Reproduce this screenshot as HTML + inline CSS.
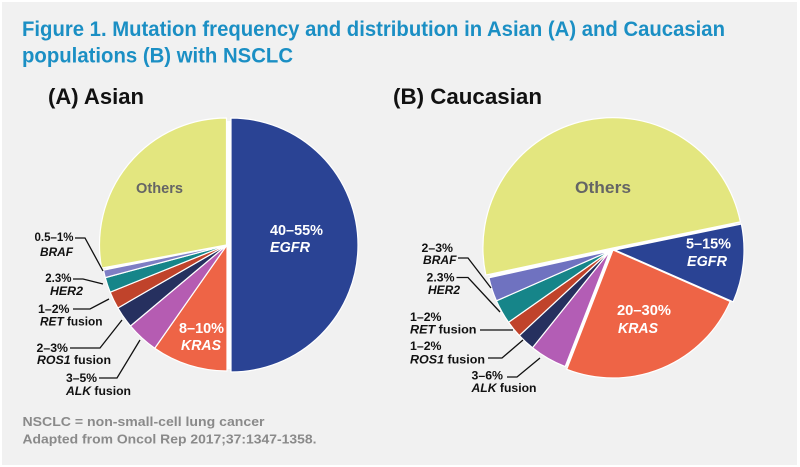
<!DOCTYPE html>
<html>
<head>
<meta charset="utf-8">
<style>
html,body{margin:0;padding:0;background:#ffffff;}
body{width:800px;height:467px;overflow:hidden;position:relative;}
#panel{position:absolute;left:2px;top:2px;width:795px;height:463px;background:#f1f1f1;}
svg{position:absolute;left:0;top:0;}
text{font-family:"Liberation Sans",Arial,sans-serif;font-weight:bold;}
</style>
</head>
<body>
<div id="panel"></div>
<svg width="800" height="467" viewBox="0 0 800 467" xmlns="http://www.w3.org/2000/svg">
  <!-- Title -->
  <text x="22" y="36" font-size="21" fill="#1b8fc4" textLength="703" lengthAdjust="spacingAndGlyphs">Figure 1. Mutation frequency and distribution in Asian (A) and Caucasian</text>
  <text x="22" y="62.5" font-size="21" fill="#1b8fc4" textLength="271" lengthAdjust="spacingAndGlyphs">populations (B) with NSCLC</text>

  <text x="48" y="104" font-size="22" fill="#111" textLength="96" lengthAdjust="spacingAndGlyphs">(A) Asian</text>
  <text x="393" y="104" font-size="22" fill="#111" textLength="149" lengthAdjust="spacingAndGlyphs">(B) Caucasian</text>

  <!-- Pie A -->
  <circle cx="228" cy="245" r="124" fill="#ffffff"/>
  <g stroke="#ffffff" stroke-width="1.2" stroke-linejoin="round">
    <path d="M231,245 L231,118 A127,127 0 0 1 231,372 Z" fill="#2a4394"/>
    <path d="M227,245 L227,371 A126,126 0 0 1 154.73,348.22 Z" fill="#ee6446"/>
    <path d="M227,245 L154.73,348.22 A126,126 0 0 1 130.48,325.99 Z" fill="#b55cb2"/>
    <path d="M227,245 L130.48,325.99 A126,126 0 0 1 117.88,308 Z" fill="#26305f"/>
    <path d="M227,245 L117.88,308 A126,126 0 0 1 110.17,292.2 Z" fill="#c0432b"/>
    <path d="M227,245 L110.17,292.2 A126,126 0 0 1 105.29,277.61 Z" fill="#168589"/>
    <path d="M227,245 L105.29,277.61 A126,126 0 0 1 103.53,270.12 Z" fill="#7e7ec4"/>
    <path d="M226.5,245 L101.62,268.14 A127,127 0 0 1 226.5,118 Z" fill="#e3e67f"/>
  </g>
  <text x="136" y="193" font-size="14.5" fill="#656565" textLength="47" lengthAdjust="spacingAndGlyphs">Others</text>
  <text x="270" y="235" font-size="14.5" fill="#ffffff" textLength="53" lengthAdjust="spacingAndGlyphs">40–55%</text>
  <text x="270" y="252" font-size="14.5" fill="#ffffff" font-style="italic" textLength="40" lengthAdjust="spacingAndGlyphs">EGFR</text>
  <text x="179" y="333" font-size="14.5" fill="#ffffff" textLength="45" lengthAdjust="spacingAndGlyphs">8–10%</text>
  <text x="181" y="350" font-size="14.5" fill="#ffffff" font-style="italic" textLength="40" lengthAdjust="spacingAndGlyphs">KRAS</text>

  <g font-size="11.5" fill="#111">
    <text x="73.5" y="241" text-anchor="end">0.5–1%</text>
    <text x="40" y="256" font-style="italic" textLength="33" lengthAdjust="spacingAndGlyphs">BRAF</text>
    <text x="71.5" y="282" text-anchor="end">2.3%</text>
    <text x="50" y="295" font-style="italic" textLength="33" lengthAdjust="spacingAndGlyphs">HER2</text>
    <text x="38" y="313" textLength="31.5" lengthAdjust="spacingAndGlyphs">1–2%</text>
    <text x="40" y="325.5" textLength="62.5" lengthAdjust="spacingAndGlyphs"><tspan font-style="italic">RET</tspan> fusion</text>
    <text x="36.5" y="352" textLength="31.5" lengthAdjust="spacingAndGlyphs">2–3%</text>
    <text x="37" y="364" textLength="74" lengthAdjust="spacingAndGlyphs"><tspan font-style="italic">ROS1</tspan> fusion</text>
    <text x="66" y="382" textLength="31" lengthAdjust="spacingAndGlyphs">3–5%</text>
    <text x="66" y="395" textLength="65" lengthAdjust="spacingAndGlyphs"><tspan font-style="italic">ALK</tspan> fusion</text>
  </g>
  <g fill="none" stroke="#111" stroke-width="1.3">
    <polyline points="75,238 85,238 103,271"/>
    <polyline points="73,279 83,279 103,284"/>
    <polyline points="73,309 90,309 109,299"/>
    <polyline points="70,348 100,348 122,320"/>
    <polyline points="99,378 117,378 140,340"/>
  </g>

  <!-- Pie B -->
  <circle cx="612" cy="249" r="125" fill="#ffffff"/>
  <g stroke="#ffffff" stroke-width="1.2" stroke-linejoin="round">
    <path d="M613,248 L485.85,275.03 A130,130 0 1 1 740.35,221.86 Z" fill="#e3e67f"/>
    <path d="M615,250 L741.37,224.06 A129,129 0 0 1 733.13,301.85 Z" fill="#2a4394"/>
    <path d="M613,250 L730.21,301.44 A128,128 0 0 1 566.72,369.33 Z" fill="#ee6446"/>
    <path d="M610,251 L565.16,366.61 A124,124 0 0 1 532.48,347.77 Z" fill="#b35db5"/>
    <path d="M610,251 L532.48,347.77 A124,124 0 0 1 519.31,335.57 Z" fill="#26305f"/>
    <path d="M610,251 L519.31,335.57 A124,124 0 0 1 508.56,322.3 Z" fill="#c0432b"/>
    <path d="M610,251 L508.56,322.3 A124,124 0 0 1 496.45,300.84 Z" fill="#168589"/>
    <path d="M610,251 L496.45,300.84 A124,124 0 0 1 488.94,277.83 Z" fill="#6f72c0"/>
  </g>
  <text x="575" y="193" font-size="16.5" fill="#656565" textLength="56" lengthAdjust="spacingAndGlyphs">Others</text>
  <text x="686" y="248.5" font-size="14.5" fill="#ffffff" textLength="45" lengthAdjust="spacingAndGlyphs">5–15%</text>
  <text x="687" y="266" font-size="14.5" fill="#ffffff" font-style="italic" textLength="40" lengthAdjust="spacingAndGlyphs">EGFR</text>
  <text x="617" y="315" font-size="14.5" fill="#ffffff" textLength="54" lengthAdjust="spacingAndGlyphs">20–30%</text>
  <text x="618" y="333" font-size="14.5" fill="#ffffff" font-style="italic" textLength="40" lengthAdjust="spacingAndGlyphs">KRAS</text>

  <g font-size="11.5" fill="#111">
    <text x="421.5" y="252" textLength="31.5" lengthAdjust="spacingAndGlyphs">2–3%</text>
    <text x="423" y="264" font-style="italic" textLength="33.5" lengthAdjust="spacingAndGlyphs">BRAF</text>
    <text x="426.5" y="281.5" textLength="28" lengthAdjust="spacingAndGlyphs">2.3%</text>
    <text x="428" y="294" font-style="italic" textLength="32" lengthAdjust="spacingAndGlyphs">HER2</text>
    <text x="410" y="321" textLength="31.5" lengthAdjust="spacingAndGlyphs">1–2%</text>
    <text x="410" y="333.5" textLength="66.5" lengthAdjust="spacingAndGlyphs"><tspan font-style="italic">RET</tspan> fusion</text>
    <text x="410" y="350" textLength="31.5" lengthAdjust="spacingAndGlyphs">1–2%</text>
    <text x="410" y="363.5" textLength="75" lengthAdjust="spacingAndGlyphs"><tspan font-style="italic">ROS1</tspan> fusion</text>
    <text x="471.5" y="379.5" textLength="31.5" lengthAdjust="spacingAndGlyphs">3–6%</text>
    <text x="471.5" y="392" textLength="65" lengthAdjust="spacingAndGlyphs"><tspan font-style="italic">ALK</tspan> fusion</text>
  </g>
  <g fill="none" stroke="#111" stroke-width="1.3">
    <polyline points="458,258 468,258 491,288"/>
    <polyline points="456.5,277.5 468,277.5 500,312"/>
    <polyline points="480,330 513,330"/>
    <polyline points="488,358 502,358 523,340"/>
    <polyline points="507,377 517,377 540,358"/>
  </g>

  <!-- Footer -->
  <text x="22.5" y="426" font-size="13" fill="#8a8a8a" textLength="242" lengthAdjust="spacingAndGlyphs">NSCLC = non-small-cell lung cancer</text>
  <text x="22.5" y="443.5" font-size="13" fill="#8a8a8a" textLength="294" lengthAdjust="spacingAndGlyphs">Adapted from Oncol Rep 2017;37:1347-1358.</text>
</svg>
</body>
</html>
